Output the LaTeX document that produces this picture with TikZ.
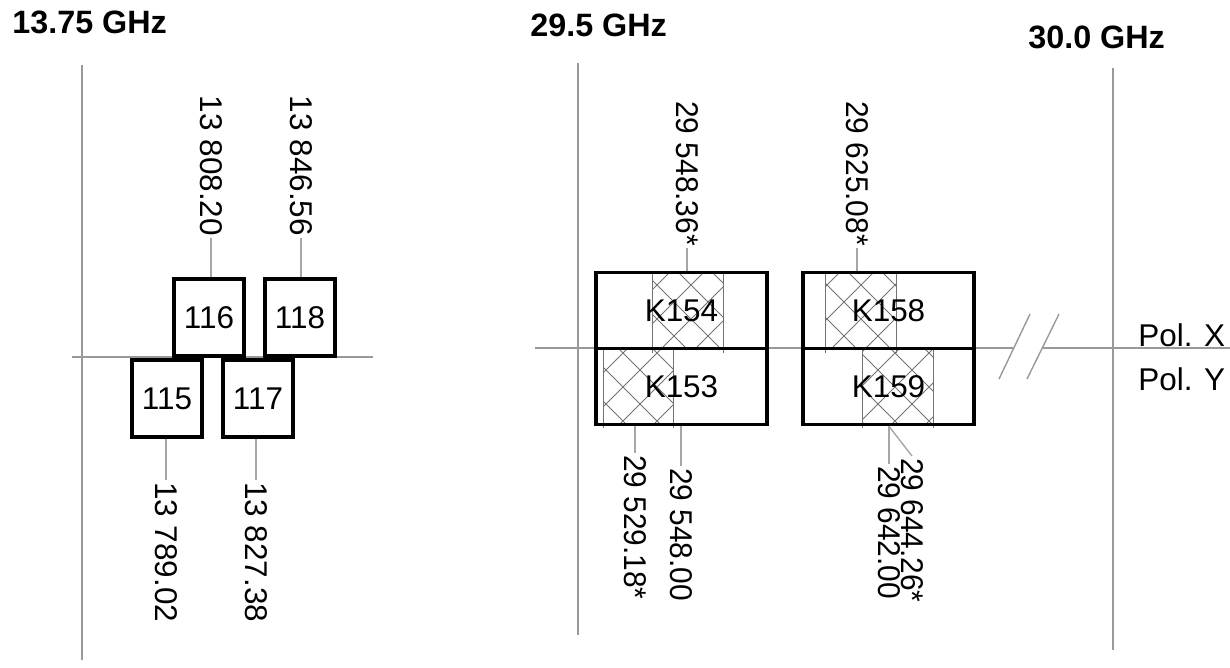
\documentclass[tikz,border=0pt]{standalone}
\usepackage{fontspec}
\setmainfont{Liberation Sans}
\newfontfamily\narrowval[FakeStretch=0.95]{Liberation Sans}

\begin{document}
\begin{tikzpicture}[x=0.02cm, y=-0.02cm,
  every node/.style={font=\fontsize{17.9}{20}\selectfont},
  ttl/.style={font=\fontsize{18.4}{20}\selectfont\bfseries, anchor=base west, inner sep=0pt},
  lbox/.style={draw, line width=2.1pt, minimum width=1.4cm, minimum height=1.54cm, inner sep=0pt},
  kbox/.style={draw, line width=2.1pt, minimum width=3.42cm, minimum height=1.52cm, inner sep=0pt},
  val/.style={rotate=-90, inner sep=1pt},
  rval/.style={val, font=\narrowval\fontsize{17.9}{20}\selectfont},
  ax/.style={draw=black!40, line width=0.8pt},
  lead/.style={draw=black!35, line width=0.8pt},
  hatch/.style={draw=black!55, line width=0.55pt}]
	\useasboundingbox (0,0) rectangle (1230,667);

	% band titles
	\node[ttl] (t1375) at (12,33) {13.75 GHz};
	\node[ttl] (t295) at (530,36) {29.5 GHz};
	\node[ttl] (t300) at (1028,48) {30.0 GHz};

	% frequency axes
	\draw[ax] (82,65) -- (82,660);
	\draw[ax] (72,357) -- (373,357);
	\draw[ax] (578,63) -- (578,635);
	\draw[ax] (1113,68) -- (1113,650);
	\draw[ax] (535,348) -- (1014,348);
	\draw[ax] (1042,348) -- (1230,348);
	\draw[ax] (999,379) -- (1030,314);
	\draw[ax] (1027,379) -- (1059,314);

	% cross hatched parts of the K channels
	\foreach \xa/\xb/\ya/\yb in {652/723/272/349, 603/673/349/424, 825/896/272/349, 862/933/349/424}{
		\begin{scope}
			\clip (\xa,\ya) rectangle (\xb,\yb);
			\foreach \c in {300,334,...,1300}
				\draw[hatch] (\c,200) -- ++(300,300) (\c,200) -- ++(-300,300);
		\end{scope}
		\draw[hatch] (\xa,\ya) -- (\xa,\yb+4) (\xb,\ya) -- (\xb,\yb+4);
	}

	% Ku band channels
	\node[lbox] (b116) at (209,317.5) {116};
	\node[lbox] (b118) at (300,317.5) {118};
	\node[lbox] (b115) at (167,398.5) {115};
	\node[lbox] (b117) at (258,398.5) {117};

	% Ka band channels
	\node[kbox] (k154) at (681.5,310.5) {K154};
	\node[kbox] (k153) at (681.5,386.5) {K153};
	\node[kbox] (k158) at (888.5,310.5) {K158};
	\node[kbox] (k159) at (888.5,386.5) {K159};

	\node[anchor=base west, inner sep=0pt] (polx) at (1138,346) {Pol. X};
	\node[anchor=base west, inner sep=0pt] (poly) at (1138,390) {Pol. Y};

	% centre frequencies
	\node[val, anchor=east] (l808) at (211,238) {13 808.20};
	\node[val, anchor=east] (l846) at (301,238) {13 846.56};
	\node[val, anchor=west] (l789) at (166,480) {13 789.02};
	\node[val, anchor=west] (l827) at (256,480) {13 827.38};
	\node[rval, anchor=east] (l54836) at (687,248) {29 548.36*};
	\node[rval, anchor=east] (l62508) at (857,248) {29 625.08*};
	\node[rval, anchor=west] (l52918) at (635,453) {29 529.18*};
	\node[rval, anchor=west] (l54800) at (681,466) {29 548.00};
	\node[rval, anchor=west] (l64200) at (889,464) {29 642.00};
	\node[rval, anchor=west] (l64426) at (912,456) {29 644.26*};

	\draw[lead] (l808.east) -- (l808.east |- b116.north);
	\draw[lead] (l846.east) -- (l846.east |- b118.north);
	\draw[lead] (l789.west) -- (l789.west |- b115.south);
	\draw[lead] (l827.west) -- (l827.west |- b117.south);
	\draw[lead] (l54836.east) -- (l54836.east |- k154.north);
	\draw[lead] (l62508.east) -- (l62508.east |- k158.north);
	\draw[lead] (l52918.west) -- (l52918.west |- k153.south);
	\draw[lead] (l54800.west) -- (l54800.west |- k153.south);
	\draw[lead] (l64200.west) -- (l64200.west |- k159.south);
	\draw[lead] (l64200.west |- k159.south) -- (l64426.west);
\end{tikzpicture}
\end{document}
